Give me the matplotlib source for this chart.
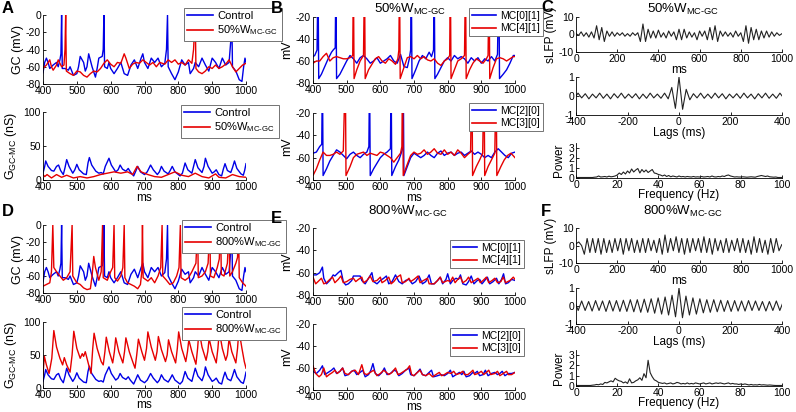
import numpy as np
import matplotlib
matplotlib.use('Agg')
import matplotlib.pyplot as plt

plt.rcParams['font.family'] = ['Liberation Sans', 'DejaVu Sans']
plt.rcParams['mathtext.fontset'] = 'custom'
plt.rcParams['mathtext.rm'] = 'Liberation Sans'
plt.rcParams['mathtext.it'] = 'Liberation Sans:italic'
plt.rcParams['mathtext.bf'] = 'Liberation Sans:bold'
plt.rcParams['mathtext.fallback'] = 'stixsans'
plt.rcParams['axes.unicode_minus'] = False

# ---------------- DATA ----------------
# GC membrane potential, control (A and D, blue)
gc_ctrl = [(400,-67),(405,-55),(410,-50),(415,-55),(420,-62),(430,-58),(440,-55),(445,-60),(450,-52),
           (453,-45),(455,0),(457,-62),(465,-62),(475,-64),(480,-60),(490,-70),(500,-68),(505,-60),(510,-48),
           (520,-55),(525,-65),(530,-60),(535,-45),(545,-60),(555,-72),(560,-62),(565,-50),(575,-48),(578,-40),
           (580,0),(582,-60),(590,-62),(595,-55),(600,-62),(610,-68),(620,-62),(630,-55),(640,-68),(650,-70),
           (660,-58),(670,-52),(680,-62),(690,-50),(695,-45),(700,-55),(710,-62),(720,-50),(730,-55),(740,-50),
           (750,-60),(760,-56),(765,-40),(768,0),(770,-60),(780,-68),(790,-75),(800,-66),(810,-52),(820,-58),
           (830,-55),(835,-68),(845,-62),(850,-55),(860,-60),(870,-50),(880,-58),(890,-65),(900,-50),(910,-55),
           (920,-62),(930,-50),(940,-58),(950,-55),(955,-30),(958,0),(960,-60),(970,-65),(980,-75),(988,-77),
           (993,-60),(997,-50),(1000,-55)]
# GC membrane potential, 50% W_MC-GC (A, red)
gc_50 = [(400,-62),(410,-58),(420,-52),(425,-60),(430,-64),(440,-58),(445,-52),(455,-60),(462,-58),(465,-40),
         (467,0),(469,-65),(480,-68),(490,-70),(500,-65),(510,-66),(520,-70),(530,-72),(540,-68),(550,-65),
         (560,-66),(570,-62),(580,-56),(590,-52),(600,-57),(610,-60),(620,-55),(630,-56),(640,-45),(645,-50),
         (655,-62),(665,-57),(675,-55),(685,-56),(695,-52),(705,-55),(715,-58),(725,-55),(735,-60),(745,-55),
         (760,-57),(770,-52),(780,-55),(790,-52),(800,-57),(810,-55),(820,-58),(830,-52),(840,-56),(845,-40),
         (850,0),(852,-62),(860,-66),(870,-68),(880,-65),(890,-60),(900,-62),(910,-58),(920,-62),(930,-60),
         (940,-57),(950,-52),(960,-60),(970,-66),(980,-62),(990,-58),(1000,-56)]
# GC membrane potential, 800% W_MC-GC (D, red)
gc_800 = [(400,-72),(410,-70),(420,-68),(425,-55),(429,0),(432,-50),(440,-55),(450,-60),(460,-65),(470,-62),
          (480,-55),(486,0),(488,-60),(500,-68),(510,-70),(520,-74),(530,-76),(540,-75),(545,-60),(550,-37),
          (555,-50),(565,-65),(572,-55),(576,0),(578,-62),(590,-65),(600,-55),(606,-50),(610,0),(612,-62),
          (620,-66),(630,-60),(636,-50),(640,0),(642,-62),(650,-68),(660,-70),(670,-72),(680,-75),(688,-70),
          (692,-55),(694,0),(696,-62),(710,-66),(720,-62),(730,-68),(740,-60),(748,-50),(752,0),(754,-60),
          (765,-65),(775,-70),(785,-68),(795,-60),(802,-50),(806,0),(808,-62),(820,-65),(830,-62),(840,-55),
          (852,-45),(857,0),(859,-62),(870,-60),(880,-55),(888,-45),(893,0),(895,-60),(905,-62),(915,-50),
          (921,-40),(925,0),(927,-58),(935,-60),(945,-45),(950,0),(952,-60),(960,-55),(970,-45),(975,-38),
          (978,0),(980,-62),(990,-68),(1000,-72)]
# G_GC-MC conductance (nS)
g_ctrl = [(400,10),(405,20),(408,28),(415,20),(425,14),(432,13),(440,20),(446,22),(452,14),(460,8),(465,18),
          (470,30),(477,20),(488,10),(494,15),(500,23),(507,15),(520,9),(528,8),(533,25),(537,33),(544,22),
          (556,13),(565,10),(572,11),(578,9),(584,20),(595,32),(602,22),(615,12),(622,15),(628,22),(635,16),
          (645,13),(652,17),(658,12),(668,6),(675,14),(680,20),(688,12),(700,8),(708,12),(718,22),(726,15),
          (738,8),(744,12),(750,20),(758,13),(770,9),(776,14),(782,20),(790,12),(805,6),(812,10),(820,25),
          (828,15),(840,10),(845,20),(850,30),(858,18),(870,11),(876,20),(880,32),(888,20),(900,10),(906,12),
          (912,15),(920,8),(928,6),(933,16),(938,24),(945,14),(955,11),(960,18),(966,28),(973,17),(985,9),
          (992,7),(996,14),(1000,24)]
g_50 = [(400,8),(405,5),(412,8),(425,3),(440,8),(455,4),(470,7),(490,3),(510,5),(530,3),(550,5),(570,8),
        (590,10),(610,12),(630,10),(650,12),(665,8),(678,20),(690,12),(710,8),(730,5),(750,4),(770,8),(790,12),
        (810,7),(830,5),(850,10),(870,5),(890,3),(910,9),(920,4),(940,3),(960,8),(980,5),(1000,4)]
g_800 = [(400,20),(404,48),(410,35),(418,22),(426,45),(432,87),(440,62),(450,45),(458,35),(463,46),(470,35),
         (480,24),(486,50),(491,86),(500,60),(510,45),(516,52),(520,48),(525,55),(535,35),(542,22),(547,60),
         (551,83),(560,60),(572,40),(578,35),(583,55),(587,77),(596,55),(606,38),(611,55),(615,76),(624,55),
         (636,38),(641,55),(645,76),(655,55),(665,40),(672,30),(677,50),(682,74),(692,55),(700,42),(706,60),
         (710,85),(720,62),(732,42),(737,55),(741,78),(750,58),(762,40),(767,50),(771,73),(780,55),(792,38),
         (797,60),(801,85),(810,60),(822,40),(827,55),(831,73),(840,55),(852,36),(857,60),(861,88),(870,62),
         (882,42),(887,55),(891,75),(900,55),(912,38),(917,60),(921,86),(930,60),(940,42),(945,50),(950,75),
         (958,55),(970,38),(975,60),(979,88),(988,60),(995,40),(1000,30)]
# Mitral cells, 50% W_MC-GC (B)
mc01_50 = [(400,-56),(405,-55),(412,-50),(415,20),(417,-76),(425,-72),(435,-65),(445,-58),(455,-52),(460,-50),
           (466,-48),(468,20),(470,-76),(480,-72),(490,-66),(500,-60),(510,-55),(520,-58),(530,-62),(540,-57),
           (550,-55),(560,-58),(570,-62),(580,-60),(590,-57),(600,-62),(610,-60),(620,-58),(630,-55),(640,-60),
           (650,-62),(660,-54),(670,-65),(680,-66),(686,-58),(690,-50),(692,20),(694,-76),(705,-68),(715,-60),
           (725,-55),(735,-58),(745,-52),(752,-56),(758,-50),(760,20),(762,-76),(770,-72),(780,-66),(790,-60),
           (800,-57),(810,-60),(820,-55),(830,-58),(840,-56),(850,-58),(860,-62),(870,-57),(880,-60),(890,-57),
           (900,-62),(910,-58),(920,-60),(930,-56),(940,-60),(948,-54),(952,20),(954,-76),(965,-72),(975,-68),
           (985,-62),(995,-55),(1000,-55)]
mc41_50 = [(400,-62),(410,-60),(420,-60),(430,-56),(440,-53),(450,-60),(460,-57),(470,-56),(480,-57),(490,-58),
           (500,-58),(510,-57),(518,-55),(520,20),(522,-76),(530,-68),(540,-60),(550,-55),(553,20),(555,-76),
           (565,-68),(575,-63),(585,-58),(595,-56),(605,-60),(615,-62),(625,-58),(635,-60),(645,-63),(652,-58),
           (655,-50),(657,20),(659,-76),(670,-66),(680,-57),(690,-56),(700,-58),(710,-55),(720,-58),(730,-56),
           (740,-59),(750,-60),(760,-58),(770,-62),(780,-64),(790,-60),(800,-58),(806,-55),(808,20),(810,-76),
           (820,-68),(830,-60),(840,-58),(850,-55),(853,20),(855,-76),(865,-68),(875,-62),(885,-58),(895,-60),
           (905,-62),(915,-58),(920,-55),(923,20),(925,-76),(935,-66),(945,-58),(955,-57),(965,-58),(975,-60),
           (985,-58),(995,-56),(1000,-56)]
mc20_50 = [(400,-56),(410,-55),(420,-50),(426,-48),(428,20),(430,-76),(440,-70),(450,-63),(460,-58),(470,-53),
           (480,-55),(490,-58),(500,-61),(510,-57),(520,-55),(530,-58),(540,-60),(550,-57),(560,-55),(566,-50),
           (568,20),(570,-76),(580,-70),(590,-65),(600,-60),(610,-57),(620,-55),(630,-52),(632,20),(634,-76),
           (645,-68),(655,-62),(662,-56),(666,-52),(668,20),(670,-76),(680,-68),(690,-60),(700,-56),(710,-58),
           (720,-60),(730,-58),(740,-55),(750,-58),(760,-60),(770,-56),(780,-54),(790,-58),(800,-56),(810,-55),
           (820,-58),(830,-56),(840,-55),(850,-58),(860,-56),(870,-54),(880,-57),(890,-55),(900,-57),(910,-60),
           (920,-58),(930,-60),(940,-55),(950,-52),(960,-55),(970,-58),(980,-60),(990,-56),(1000,-55)]
mc30_50 = [(400,-76),(410,-70),(420,-62),(430,-55),(440,-58),(450,-58),(460,-57),(470,-55),(480,-57),(490,-54),
           (496,20),(498,-76),(510,-68),(520,-60),(530,-57),(540,-56),(550,-55),(560,-58),(570,-56),(580,-57),
           (590,-58),(600,-55),(610,-56),(620,-58),(630,-60),(640,-64),(650,-60),(660,-56),(664,-50),(666,20),
           (668,-76),(680,-66),(690,-58),(700,-55),(710,-57),(720,-56),(730,-53),(740,-57),(750,-55),(760,-52),
           (770,-56),(780,-57),(790,-53),(800,-57),(810,-55),(820,-58),(830,-53),(840,-56),(850,-60),(860,-57),
           (868,-55),(872,20),(874,-76),(885,-68),(895,-62),(904,-56),(908,20),(910,-76),(920,-68),(930,-62),
           (940,-56),(944,20),(946,-76),(958,-68),(968,-62),(978,-58),(988,-56),(1000,-60)]
# Mitral cells, 800% W_MC-GC (E)
mc01_800 = [(400,-62),(410,-62),(420,-60),(428,-55),(432,-65),(440,-70),(450,-67),(460,-62),(465,-63),(475,-60),
            (483,-58),(490,-68),(497,-71),(505,-70),(515,-67),(520,-63),(530,-63),(540,-63),(545,-67),(555,-70),
            (565,-65),(575,-60),(580,-68),(590,-70),(600,-67),(610,-65),(618,-63),(625,-70),(635,-68),(645,-62),
            (655,-68),(665,-70),(675,-67),(685,-66),(695,-70),(705,-68),(715,-63),(725,-70),(735,-68),(745,-62),
            (752,-70),(760,-70),(770,-67),(778,-64),(785,-70),(795,-66),(800,-61),(808,-70),(815,-67),(825,-65),
            (832,-66),(838,-62),(845,-70),(855,-71),(862,-68),(870,-63),(878,-70),(888,-67),(895,-66),(902,-70),
            (910,-67),(918,-64),(925,-70),(935,-68),(945,-65),(952,-70),(960,-66),(966,-61),(972,-70),(980,-69),
            (990,-66),(1000,-67)]
mc41_800 = [(400,-64),(408,-70),(415,-68),(425,-65),(432,-70),(440,-69),(450,-66),(458,-64),(465,-69),(475,-66),
            (483,-63),(490,-69),(500,-68),(510,-66),(520,-65),(527,-68),(535,-66),(545,-64),(550,-69),(560,-67),
            (570,-63),(578,-68),(590,-67),(600,-64),(605,-69),(615,-67),(625,-64),(632,-70),(640,-68),(650,-64),
            (660,-62),(665,-69),(675,-68),(685,-65),(690,-68),(700,-66),(712,-63),(718,-69),(728,-67),(740,-65),
            (745,-70),(760,-70),(770,-67),(778,-64),(785,-69),(800,-67),(808,-68),(815,-64),(822,-69),(830,-66),
            (838,-64),(845,-69),(855,-67),(862,-64),(870,-69),(880,-67),(890,-65),(897,-69),(905,-67),(915,-64),
            (922,-69),(932,-67),(940,-65),(948,-69),(958,-68),(965,-64),(972,-69),(985,-67),(995,-64),(1000,-66)]
mc20_800 = [(400,-63),(410,-65),(420,-62),(428,-58),(435,-66),(445,-64),(455,-62),(462,-60),(470,-65),(480,-63),
            (488,-60),(495,-67),(505,-66),(515,-63),(522,-62),(530,-66),(540,-64),(548,-62),(555,-68),(565,-66),
            (572,-62),(578,-56),(585,-65),(595,-67),(605,-64),(612,-60),(620,-66),(630,-65),(640,-62),(648,-63),
            (655,-67),(665,-65),(675,-62),(685,-60),(690,-66),(700,-67),(710,-64),(718,-61),(725,-66),(735,-67),
            (745,-64),(752,-62),(758,-68),(770,-67),(780,-66),(790,-67),(800,-65),(808,-62),(815,-68),(825,-66),
            (835,-64),(842,-66),(848,-63),(855,-68),(865,-67),(875,-64),(880,-65),(888,-63),(895,-67),(905,-66),
            (912,-62),(920,-67),(930,-65),(940,-64),(948,-66),(955,-65),(962,-63),(970,-67),(980,-65),(990,-65),
            (1000,-64)]
mc30_800 = [(400,-58),(408,-65),(418,-68),(425,-66),(432,-60),(440,-68),(448,-66),(458,-64),(465,-62),(472,-65),
            (480,-63),(488,-60),(495,-65),(505,-66),(515,-63),(525,-62),(535,-66),(545,-57),(552,-65),(560,-66),
            (570,-64),(580,-62),(590,-67),(600,-65),(610,-62),(618,-64),(625,-66),(635,-64),(645,-60),(652,-66),
            (660,-65),(670,-63),(680,-61),(687,-58),(693,-66),(700,-67),(710,-64),(718,-62),(725,-66),(735,-67),
            (745,-65),(755,-68),(765,-66),(775,-64),(782,-67),(790,-66),(800,-64),(810,-65),(818,-63),(825,-66),
            (835,-65),(845,-63),(850,-66),(860,-66),(868,-64),(875,-62),(880,-66),(890,-65),(900,-63),(907,-66),
            (915,-64),(922,-62),(928,-66),(940,-65),(948,-63),(955,-67),(965,-65),(975,-63),(980,-66),(990,-66),
            (1000,-64)]
# sLFP (mV), samples every 12.5 ms (C) and 13.5 ms (F)
lfp50_t = np.arange(0, 1000.1, 12.5)
lfp50_v = [0.5,-0.5,1.5,-1,1,-1.5,1.5,-2,5,-3,4,-4,2,-1,1.5,-1,1,-0.5,1,-1,
           0.5,-1,1,-0.5,1,-4,6,-4,3,-2,2,-2,2.5,-1.5,1,-2,2,-1,1.5,-3,
           3,-3,3,-2,1.5,-1.5,1,-3,2,-1,2,-3,4,-3,5,-4,2,-1,1.5,-1,
           1,-1.5,2,-1,1,-4,5,-5,4,-3,3,-3,2,-2,2,-1.5,1.5,-1,1,-0.5,0.5]
lfp800_t = np.arange(0, 1000.1, 13.5)
lfp800_v = [1,2,0,-5,4,-4,4,-4,4,-5,4,-4,3,-4,4,-3,4,-5,4,-3,
            4,-4,3,-4,4,-4,4,-3,3,-4,4,-5,6,-4,4,-3,5,-4,4,-5,
            4,-4,4,-3,4,-4,5,-4,4,-5,4,-3,3,-4,4,-4,3,-3,4,-4,
            4,-4,3,-5,5,-4,4,-4,3,-5,4,-4,4,-3,0.5]
# autocorrelation, lags (ms)
lag50_t = np.arange(-406, 406.1, 14)
lag50_v = [-0.1,0.15,-0.1,0.12,-0.15,0.1,-0.1,0.15,-0.12,0.1,
           -0.15,0.12,-0.1,0.15,-0.12,0.1,-0.1,0.12,-0.15,0.1,
           -0.12,0.15,-0.1,0.1,-0.12,0.15,-0.15,0.45,-0.65,1.0,
           -0.7,0.35,-0.2,0.12,-0.1,0.15,-0.12,0.1,-0.12,0.15,
           -0.1,0.12,-0.15,0.1,-0.1,0.12,-0.12,0.15,-0.1,0.1,
           -0.15,0.12,-0.1,0.15,-0.12,0.1,-0.12,0.15,-0.1]
lag800_t = np.arange(-405, 405.1, 13.5)
lag800_v = [0.25,-0.25,0.28,-0.25,0.25,-0.28,0.3,-0.25,0.28,-0.3,
            0.3,-0.28,0.3,-0.3,0.32,-0.3,0.35,-0.32,0.35,-0.35,
            0.38,-0.35,0.4,-0.4,0.45,-0.45,0.5,-0.5,0.6,-0.6,
            1.0,-0.65,0.55,-0.5,0.45,-0.45,0.4,-0.38,0.35,-0.35,
            0.35,-0.32,0.32,-0.3,0.3,-0.3,0.3,-0.28,0.28,-0.28,
            0.3,-0.25,0.28,-0.25,0.25,-0.28,0.25,-0.25,0.28,-0.25,0.25]
# power spectra, 0..100 Hz
freq = np.arange(0, 101, 1)
pow50 = [0.05,0.05,0.05,0.05,0.05,0.05,0.05,0.05,0.05,0.08,
         0.1,0.2,0.1,0.12,0.15,0.1,0.18,0.12,0.15,0.2,
         0.3,0.5,0.35,0.6,0.4,0.7,0.5,0.9,0.6,0.8,
         0.95,0.5,0.85,0.6,0.8,0.55,0.7,0.85,0.5,0.45,
         0.35,0.3,0.2,0.3,0.15,0.25,0.12,0.2,0.15,0.1,
         0.2,0.12,0.15,0.1,0.15,0.12,0.1,0.15,0.1,0.12,
         0.1,0.15,0.1,0.12,0.15,0.1,0.2,0.12,0.1,0.15,
         0.12,0.2,0.15,0.25,0.3,0.2,0.15,0.1,0.12,0.1,
         0.1,0.12,0.1,0.08,0.1,0.12,0.1,0.08,0.15,0.2,
         0.25,0.2,0.15,0.2,0.12,0.1,0.08,0.1,0.05,0.05,0.05]
pow800 = [0.05,0.05,0.05,0.05,0.05,0.05,0.05,0.05,0.08,0.1,
          0.15,0.12,0.2,0.15,0.35,0.3,0.4,0.5,0.4,0.75,
          0.6,0.5,0.45,0.3,0.4,0.25,0.7,0.3,0.35,0.5,
          0.6,0.8,0.55,1.2,0.8,2.5,1.3,0.9,0.6,0.5,
          0.35,0.3,0.25,0.3,0.2,0.25,0.3,0.2,0.25,0.35,
          0.3,0.2,0.25,0.2,0.3,0.2,0.25,0.2,0.3,0.25,
          0.2,0.25,0.3,0.2,0.25,0.3,0.2,0.25,0.3,0.25,
          0.3,0.25,0.2,0.25,0.3,0.2,0.25,0.2,0.2,0.15,
          0.2,0.15,0.2,0.15,0.1,0.15,0.1,0.12,0.1,0.15,
          0.1,0.12,0.1,0.08,0.1,0.08,0.06,0.05,0.05,0.05,0.05]

HY = '\u2010'
lbl50 = '50%W$_{\\mathrm{MC' + HY + 'GC}}$'
lbl800 = '800%W$_{\\mathrm{MC' + HY + 'GC}}$'
glabel = 'G$_{\\mathrm{GC' + HY + 'MC}}$ (nS)'

# ---------------- FIGURE ----------------
W, H = 796, 412
fig = plt.figure(figsize=(W / 100, H / 100), dpi=100)
BLUE = '#0000e6'
RED = '#e60000'
LW = 1.0


def add_ax(l, r, t, b):
    return fig.add_axes([l / W, 1 - b / H, (r - l) / W, (b - t) / H])


def style(ax, xlim, xticks, ylim, yticks):
    ax.set_xlim(*xlim)
    ax.set_ylim(*ylim)
    ax.set_xticks(xticks)
    ax.set_yticks(yticks)
    for s in ['top', 'right']:
        ax.spines[s].set_visible(False)
    for s in ['left', 'bottom']:
        ax.spines[s].set_linewidth(0.6)
    ax.tick_params(direction='in', length=2.5, width=0.6, labelsize=7.5, pad=1.5)


def trace(ax, pts, color):
    t, v = zip(*pts)
    ax.plot(t, v, color=color, lw=LW)


def leg(ax, labels, colors, x, y, fs=8):
    handles = [plt.Line2D([], [], color=c, lw=1.2) for c in colors]
    lg = ax.legend(handles, labels, loc='upper left', bbox_to_anchor=(x / W, 1 - y / H),
                   bbox_transform=fig.transFigure, fontsize=fs, frameon=True, fancybox=False,
                   edgecolor='0.45', framealpha=1, handlelength=2.3, handletextpad=0.4,
                   borderpad=0.3, labelspacing=0.2, borderaxespad=0)
    lg.get_frame().set_linewidth(0.7)


tx = list(range(400, 1001, 100))

# Panel A
ax = add_ax(43, 246, 15, 84)
trace(ax, gc_ctrl, BLUE)
trace(ax, gc_50, RED)
style(ax, (400, 1000), tx, (-80, 0), [-80, -60, -40, -20, 0])
ax.set_ylabel('GC (mV)', fontsize=9, labelpad=1)
leg(ax, ['Control', lbl50], [BLUE, RED], 184, 8)

ax = add_ax(43, 246, 112, 180)
trace(ax, g_ctrl, BLUE)
trace(ax, g_50, RED)
style(ax, (400, 1000), tx, (0, 100), [0, 50, 100])
ax.set_ylabel(glabel, fontsize=9, labelpad=3)
ax.set_xlabel('ms', fontsize=8.5, labelpad=0)
leg(ax, ['Control', lbl50], [BLUE, RED], 181, 105)

# Panel D
ax = add_ax(43, 246, 225, 293)
trace(ax, gc_ctrl, BLUE)
trace(ax, gc_800, RED)
style(ax, (400, 1000), tx, (-80, 0), [-80, -60, -40, -20, 0])
ax.set_ylabel('GC (mV)', fontsize=9, labelpad=1)
leg(ax, ['Control', lbl800], [BLUE, RED], 182, 220)

ax = add_ax(43, 246, 322, 388)
trace(ax, g_ctrl, BLUE)
trace(ax, g_800, RED)
style(ax, (400, 1000), tx, (0, 100), [0, 50, 100])
ax.set_ylabel(glabel, fontsize=9, labelpad=3)
ax.set_xlabel('ms', fontsize=8.5, labelpad=-1)
leg(ax, ['Control', lbl800], [BLUE, RED], 182, 307)

# Panel B
ax = add_ax(313, 515, 17, 83)
trace(ax, mc01_50, BLUE)
trace(ax, mc41_50, RED)
style(ax, (400, 1000), tx, (-80, -20), [-80, -60, -40, -20])
ax.set_ylabel('mV', fontsize=9, labelpad=2)
leg(ax, ['MC[0][1]', 'MC[4][1]'], [BLUE, RED], 469, 8, fs=7.5)

ax = add_ax(313, 515, 113, 180)
trace(ax, mc20_50, BLUE)
trace(ax, mc30_50, RED)
style(ax, (400, 1000), tx, (-80, -20), [-80, -60, -40, -20])
ax.set_ylabel('mV', fontsize=9, labelpad=2)
ax.set_xlabel('ms', fontsize=8.5, labelpad=0)
leg(ax, ['MC[2][0]', 'MC[3][0]'], [BLUE, RED], 469, 103, fs=7.5)

# Panel E
ax = add_ax(313, 515, 228, 295)
trace(ax, mc01_800, BLUE)
trace(ax, mc41_800, RED)
style(ax, (400, 1000), tx, (-80, -20), [-80, -60, -40, -20])
ax.set_ylabel('mV', fontsize=9, labelpad=2)
leg(ax, ['MC[0][1]', 'MC[4][1]'], [BLUE, RED], 450, 240, fs=7.5)

ax = add_ax(313, 515, 324, 390)
trace(ax, mc20_800, BLUE)
trace(ax, mc30_800, RED)
style(ax, (400, 1000), tx, (-80, -20), [-80, -60, -40, -20])
ax.set_ylabel('mV', fontsize=9, labelpad=2)
ax.set_xlabel('ms', fontsize=8.5, labelpad=-1)
leg(ax, ['MC[2][0]', 'MC[3][0]'], [BLUE, RED], 450, 328, fs=7.5)

# Panels C and F
DARK = '#222222'
for (tops, lt, lv, gt, gv, pw) in [
        ((17, 52, 77, 115, 143, 178), lfp50_t, lfp50_v, lag50_t, lag50_v, pow50),
        ((228, 263, 288, 324, 350, 386), lfp800_t, lfp800_v, lag800_t, lag800_v, pow800)]:
    ax = add_ax(576, 782, tops[0], tops[1])
    ax.plot(lt, lv, color=DARK, lw=0.8)
    style(ax, (0, 1000), [0, 200, 400, 600, 800, 1000], (-10, 10), [-10, 0, 10])
    ax.set_ylabel('sLFP (mV)', fontsize=8.5, labelpad=1)
    ax.set_xlabel('ms', fontsize=8.5, labelpad=0)

    ax = add_ax(576, 782, tops[2], tops[3])
    ax.plot(gt, gv, color=DARK, lw=0.8)
    style(ax, (-400, 400), [-400, -200, 0, 200, 400], (-1, 1), [-1, 0, 1])
    ax.set_xlabel('Lags (ms)', fontsize=8.5, labelpad=0)

    ax = add_ax(576, 782, tops[4], tops[5])
    ax.plot(freq, pw, color=DARK, lw=0.8)
    style(ax, (0, 100), [0, 20, 40, 60, 80, 100], (0, 3.5), [0, 1, 2, 3])
    ax.set_ylabel('Power', fontsize=8.5, labelpad=2)
    ax.set_xlabel('Frequency (Hz)', fontsize=8.5, labelpad=-1)

# Titles
fig.text(410 / W, 1 - 9 / H, lbl50, ha='center', va='center', fontsize=9.5)
fig.text(683 / W, 1 - 9 / H, lbl50, ha='center', va='center', fontsize=9.5)
fig.text(408 / W, 1 - 211 / H, lbl800, ha='center', va='center', fontsize=9.5)
fig.text(683 / W, 1 - 211 / H, lbl800, ha='center', va='center', fontsize=9.5)

# Panel letters
for s, x, y in [('A', 2, 1), ('B', 271, 1), ('C', 541, 0), ('D', 2, 204), ('E', 271, 211), ('F', 541, 204)]:
    fig.text(x / W, 1 - y / H, s, ha='left', va='top', fontsize=12, fontweight='bold')

fig.savefig('out.png', dpi=100)
